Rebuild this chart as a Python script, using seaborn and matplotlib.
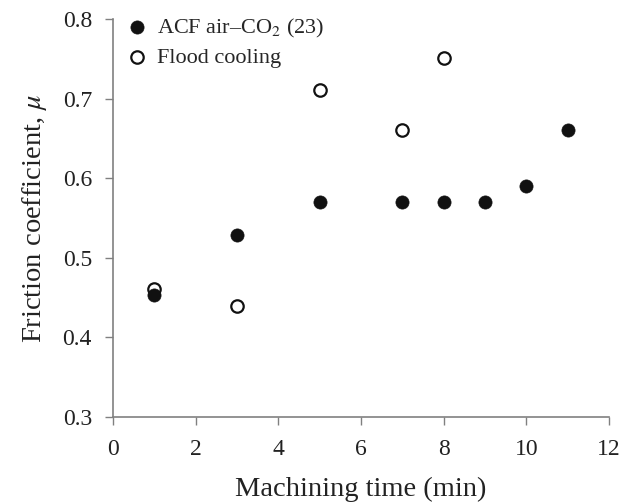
import seaborn as sb
import pandas as pd
import matplotlib.pyplot as plt

# ACF air-CO2 (23)
time_acf = [1, 3, 5, 7, 8, 9, 10, 11]
mu_acf = [0.454, 0.529, 0.570, 0.570, 0.570, 0.570, 0.591, 0.661]

# flood cooling
time_flood = [1, 3, 5, 7, 8]
mu_flood = [0.461, 0.440, 0.711, 0.661, 0.751]

sb.set_style("ticks")
plt.rcParams['font.family'] = ['Liberation Serif', 'DejaVu Serif']
plt.rcParams['mathtext.fontset'] = 'stix'

dfAcf = pd.DataFrame({'time': time_acf, 'mu': mu_acf})
dfFlood = pd.DataFrame({'time': time_flood, 'mu': mu_flood})

fig = plt.figure(figsize=(6.3, 5.04), dpi=100)
ax = fig.add_axes([0.179, 0.1726, 0.788, 0.7891])

sb.scatterplot(data=dfAcf, x='time', y='mu', ax=ax, s=90, color='#111111',
               edgecolor='#111111', linewidth=0.5, label='ACF air–CO$_2$ (23)', zorder=3)
sb.scatterplot(data=dfFlood, x='time', y='mu', ax=ax, s=80, facecolor='white',
               edgecolor='#111111', linewidth=1.6, label='Flood cooling', zorder=2)

ax.set_xlim(0, 12)
ax.set_ylim(0.3, 0.8)
ax.set_xticks([0, 2, 4, 6, 8, 10, 12])
ax.set_yticks([0.3, 0.4, 0.5, 0.6, 0.7, 0.8])
ax.set_yticklabels(['0.3', '0.4', '0.5', '0.6', '0.7', '0.8'])
ax.set_xlabel('Machining time (min)', fontsize=20.5, color='#222222', labelpad=12)
ax.set_ylabel('Friction coefficient, $\\mu$', fontsize=20.5, color='#222222', labelpad=10)
ax.tick_params(axis='both', labelsize=17, colors='#222222', direction='out',
               length=6, width=1, color='#808080')
ax.tick_params(axis='y', pad=9)
ax.tick_params(axis='x', pad=10)
for side in ['top', 'right']:
    ax.spines[side].set_visible(False)
for side in ['left', 'bottom']:
    ax.spines[side].set_color('#808080')
    ax.spines[side].set_linewidth(1.2)

ax.legend(loc='upper left', bbox_to_anchor=(0.0, 1.04), frameon=False, fontsize=16,
          handletextpad=0.4, borderaxespad=0.2, labelspacing=0.35, handlelength=1.0)

plt.savefig('out.png', dpi=100)
